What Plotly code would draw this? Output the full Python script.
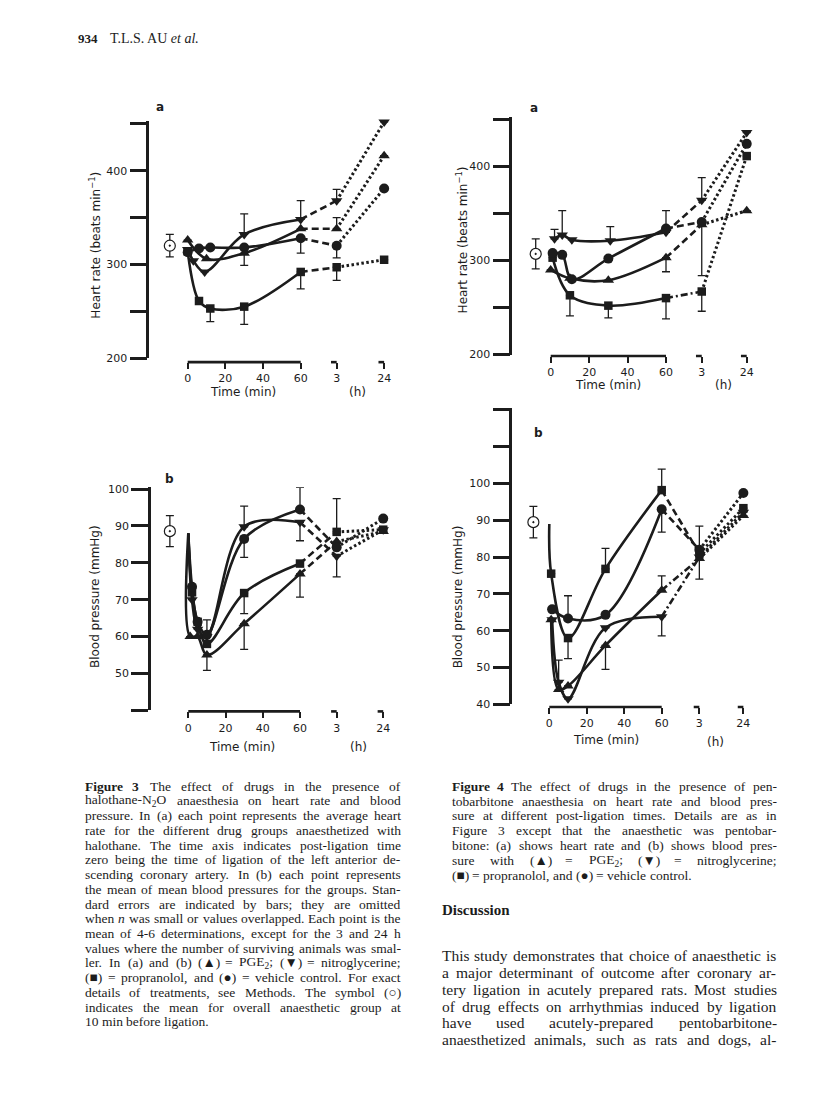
import re
import plotly.graph_objects as go

PAGE_W, PAGE_H = 816, 1113
BODY = 8                      # default margin of the html body
FIG_W, FIG_H = PAGE_W - 2 * BODY, PAGE_H - 2 * BODY
INK = '#1c1c1c'
SANS = 'DejaVu Sans'
SERIF = 'Liberation Serif'


def fx(x):
    return (x - BODY) / FIG_W


def fy(y):
    return 1 - (y - BODY) / FIG_H


# ---------------- data (time in minutes; 180 = 3 h, 1440 = 24 h) ----------------
# Figure 3a: heart rate (beats/min), halothane-N2O
f3a_pge2_t = [0, 10, 30, 60, 180, 1440]
f3a_pge2_v = [326, 306, 312, 338, 338, 416]
f3a_pge2_up = [0, 0, 0, 0, 12, 0]
f3a_pge2_dn = [0, 0, 13, 0, 0, 0]
f3a_nitro_t = [0, 3, 9, 30, 60, 180, 1440]
f3a_nitro_v = [316, 304, 292, 332, 348, 368, 452]
f3a_nitro_up = [0, 0, 0, 22, 20, 12, 0]
f3a_nitro_dn = [0, 0, 0, 0, 0, 0, 0]
f3a_prop_t = [0, 6, 12, 30, 60, 180, 1440]
f3a_prop_v = [314, 261, 253, 255, 292, 297, 305]
f3a_prop_up = [0, 0, 0, 0, 0, 0, 0]
f3a_prop_dn = [0, 0, 14, 19, 18, 14, 0]
f3a_veh_t = [0, 6, 12, 30, 60, 180, 1440]
f3a_veh_v = [313, 317, 318, 318, 328, 320, 381]
f3a_veh_up = [0, 0, 0, 0, 0, 0, 0]
f3a_veh_dn = [0, 0, 0, 0, 16, 13, 0]
f3a_pre = [320, 12]           # mean, SE at 10 min before ligation

# Figure 4a: heart rate (beats/min), pentobarbitone
f4a_pge2_t = [0, 10, 30, 60, 180, 1440]
f4a_pge2_v = [290, 281, 279, 303, 338, 353]
f4a_pge2_up = [0, 0, 0, 0, 0, 0]
f4a_pge2_dn = [0, 0, 0, 15, 0, 0]
f4a_nitro_t = [2, 6, 11, 31, 60, 180, 1440]
f4a_nitro_v = [323, 327, 322, 321, 330, 364, 436]
f4a_nitro_up = [10, 26, 0, 15, 0, 24, 0]
f4a_nitro_dn = [0, 0, 0, 0, 0, 0, 0]
f4a_prop_t = [1, 10, 30, 60, 180, 1440]
f4a_prop_v = [303, 263, 252, 260, 267, 411]
f4a_prop_up = [0, 0, 0, 0, 0, 0]
f4a_prop_dn = [0, 22, 13, 22, 21, 0]
f4a_veh_t = [1, 6, 11, 30, 60, 180, 1440]
f4a_veh_v = [308, 306, 280, 302, 334, 341, 424]
f4a_veh_up = [0, 0, 0, 0, 19, 0, 0]
f4a_veh_dn = [0, 0, 0, 0, 0, 57, 0]
f4a_pre = [307, 16]

# Figure 3b: blood pressure (mmHg), halothane-N2O
f3b_lead = 88                 # common value at ligation (unmarked start of curves)
f3b_pge2_t = [1, 5, 10, 30, 60, 180, 1440]
f3b_pge2_v = [60, 60, 55, 63.5, 77, 85.8, 88.5]
f3b_pge2_up = [0, 0, 0, 0, 0, 0, 0]
f3b_pge2_dn = [0, 0, 4.2, 7, 6.3, 0, 0]
f3b_nitro_t = [2, 5, 10, 30, 60, 180, 1440]
f3b_nitro_v = [70, 62, 60, 89.8, 91, 81.8, 89]
f3b_nitro_up = [0, 0, 0, 5.6, 0, 0, 0]
f3b_nitro_dn = [0, 0, 0, 0, 5, 5.6, 0]
f3b_prop_t = [2, 5, 10, 30, 60, 180, 1440]
f3b_prop_v = [72, 64, 58, 71.8, 79.8, 88.4, 89]
f3b_prop_up = [0, 0, 0, 0, 0, 9, 0]
f3b_prop_dn = [0, 0, 0, 5.6, 0, 0, 0]
f3b_veh_t = [2, 5, 10, 30, 60, 180, 1440]
f3b_veh_v = [73.5, 64, 60.5, 86.5, 94.5, 84.2, 92]
f3b_veh_up = [0, 0, 4, 0, 6, 0, 0]
f3b_veh_dn = [0, 0, 0, 5, 0, 0, 0]
f3b_pre = [88.6, 4.2]

# Figure 4b: blood pressure (mmHg), pentobarbitone
f4b_lead = 89                 # unmarked start of the propranolol curve
f4b_pge2_t = [1, 5, 10, 30, 60, 180, 1440]
f4b_pge2_v = [63, 44, 45, 56, 71, 79.6, 91.3]
f4b_pge2_up = [0, 0, 0, 0, 3.9, 0, 0]
f4b_pge2_dn = [0, 0, 0, 6.5, 0, 0, 0]
f4b_nitro_t = [1.5, 5, 10, 30, 60, 180, 1440]
f4b_nitro_v = [63, 46, 41.5, 60.8, 63.8, 80, 92.2]
f4b_nitro_up = [0, 6, 0, 0, 0, 0, 0]
f4b_nitro_dn = [0, 0, 0, 0, 5.2, 6, 0]
f4b_prop_t = [1, 10, 30, 60, 180, 1440]
f4b_prop_v = [75.5, 58, 76.8, 98.2, 81, 93.3]
f4b_prop_up = [0, 0, 5.6, 5.7, 7.4, 0]
f4b_prop_dn = [0, 5.6, 0, 0, 0, 0]
f4b_veh_t = [1.5, 10, 30, 60, 180, 1440]
f4b_veh_v = [65.8, 63.3, 64.3, 93, 82, 97.4]
f4b_veh_up = [0, 6.2, 0, 0, 0, 0]
f4b_veh_dn = [0, 0, 0, 6.2, 0, 0]
f4b_pre = [89.5, 4.3]

x_tick_text = ['0', '20', '40', '60', '3', '24']
hr_tick_vals = [200, 300, 400]
hr_tick_text = ['200', '300', '400']
hr_minor_vals = [250, 350, 450]
bp3_tick_vals = [50, 60, 70, 80, 90, 100]
bp3_tick_text = ['50', '60', '70', '80', '90', '100']
bp3_minor_vals = [40]
bp4_tick_vals = [40, 50, 60, 70, 80, 90, 100]
bp4_tick_text = ['40', '50', '60', '70', '80', '90', '100']
bp4_minor_vals = [110, 120]

# ---------------- styles ----------------
SYM = {'pge2': 'triangle-up', 'nitro': 'triangle-down', 'prop': 'square', 'veh': 'circle'}
MSIZE = {'pge2': 10, 'nitro': 10, 'prop': 8.5, 'veh': 10}
DASH = '7px,4px'
DASHDOT = '7px,3px,2px,3px'
DOT = '2.5px,2.5px'

PANELS = [
    dict(series={'pge2': (f3a_pge2_t, f3a_pge2_v, f3a_pge2_up, f3a_pge2_dn),
                 'nitro': (f3a_nitro_t, f3a_nitro_v, f3a_nitro_up, f3a_nitro_dn),
                 'prop': (f3a_prop_t, f3a_prop_v, f3a_prop_up, f3a_prop_dn),
                 'veh': (f3a_veh_t, f3a_veh_v, f3a_veh_up, f3a_veh_dn)},
         lead={}, pre=f3a_pre, pre_x=-9.5, h3=79.1, h24=104.3,
         dash60={'pge2': DASH, 'nitro': DASH, 'prop': DASH, 'veh': DASH},
         x0px=187.7, xs=1.8833, xl=149.3, xr=395, xaxis_y=361.7,
         ylo=200, yhi=453, ypx=357.7, ys=0.947,
         yvals=hr_tick_vals, ytext=hr_tick_text, yminor=hr_minor_vals,
         ytitle='Heart rate (beats min<sup>−1</sup>)', ytitle_xy=(95, 244),
         tmin_xy=(243, 392), th_xy=(357, 392), lab='a', lab_xy=(160, 104)),
    dict(series={'pge2': (f4a_pge2_t, f4a_pge2_v, f4a_pge2_up, f4a_pge2_dn),
                 'nitro': (f4a_nitro_t, f4a_nitro_v, f4a_nitro_up, f4a_nitro_dn),
                 'prop': (f4a_prop_t, f4a_prop_v, f4a_prop_up, f4a_prop_dn),
                 'veh': (f4a_veh_t, f4a_veh_v, f4a_veh_up, f4a_veh_dn)},
         lead={}, pre=f4a_pre, pre_x=-7.8, h3=78.6, h24=102,
         dash60={'pge2': DASH, 'nitro': DASH, 'prop': DASHDOT, 'veh': DASH},
         x0px=550.7, xs=1.9217, xl=512.3, xr=770, xaxis_y=355.5,
         ylo=200, yhi=453, ypx=354, ys=0.95,
         yvals=hr_tick_vals, ytext=hr_tick_text, yminor=hr_minor_vals,
         ytitle='Heart rate (beats min<sup>−1</sup>)', ytitle_xy=(461.7, 238),
         tmin_xy=(608, 385), th_xy=(723, 385), lab='a', lab_xy=(534, 105)),
    dict(series={'pge2': (f3b_pge2_t, f3b_pge2_v, f3b_pge2_up, f3b_pge2_dn),
                 'nitro': (f3b_nitro_t, f3b_nitro_v, f3b_nitro_up, f3b_nitro_dn),
                 'prop': (f3b_prop_t, f3b_prop_v, f3b_prop_up, f3b_prop_dn),
                 'veh': (f3b_veh_t, f3b_veh_v, f3b_veh_up, f3b_veh_dn)},
         lead={'pge2': f3b_lead, 'nitro': f3b_lead, 'prop': f3b_lead, 'veh': f3b_lead},
         pre=f3b_pre, pre_x=-9.9, h3=79.7, h24=104.7,
         dash60={'pge2': DASH, 'nitro': DASH, 'prop': DASH, 'veh': DASH},
         x0px=188.3, xs=1.8617, xl=151, xr=395, xaxis_y=714.5,
         ylo=40, yhi=100.5, ypx=713.3, ys=3.722,
         yvals=bp3_tick_vals, ytext=bp3_tick_text, yminor=bp3_minor_vals,
         ytitle='Blood pressure (mmHg)', ytitle_xy=(95, 599),
         tmin_xy=(242, 750), th_xy=(358, 750), lab='b', lab_xy=(169, 480)),
    dict(series={'pge2': (f4b_pge2_t, f4b_pge2_v, f4b_pge2_up, f4b_pge2_dn),
                 'nitro': (f4b_nitro_t, f4b_nitro_v, f4b_nitro_up, f4b_nitro_dn),
                 'prop': (f4b_prop_t, f4b_prop_v, f4b_prop_up, f4b_prop_dn),
                 'veh': (f4b_veh_t, f4b_veh_v, f4b_veh_up, f4b_veh_dn)},
         lead={'prop': f4b_lead}, pre=f4b_pre, pre_x=-8.5, h3=80.1, h24=103.6,
         dash60={'pge2': DASHDOT, 'nitro': DASHDOT, 'prop': DASH, 'veh': DASH},
         x0px=549.3, xs=1.8733, xl=512.3, xr=770, xaxis_y=710,
         ylo=40, yhi=120.5, ypx=707.3, ys=3.7167,
         yvals=bp4_tick_vals, ytext=bp4_tick_text, yminor=bp4_minor_vals,
         ytitle='Blood pressure (mmHg)', ytitle_xy=(458.3, 599),
         tmin_xy=(606, 743), th_xy=(715, 745), lab='b', lab_xy=(538, 433)),
]

# ---------------- text ----------------
HEADER_NUM = '934'
HEADER_AUTH = 'T.L.S. AU <i>et al.</i>'
CAPTION3 = [
    '<b>Figure</b> <b>3</b> The effect of drugs in the presence of',
    'halothane-N<sub>2</sub>O anaesthesia on heart rate and blood',
    'pressure. In (a) each point represents the average heart',
    'rate for the different drug groups anaesthetized with',
    'halothane. The time axis indicates post-ligation time',
    'zero being the time of ligation of the left anterior de-',
    'scending coronary artery. In (b) each point represents',
    'the mean of mean blood pressures for the groups. Stan-',
    'dard errors are indicated by bars; they are omitted',
    'when <i>n</i> was small or values overlapped. Each point is the',
    'mean of 4-6 determinations, except for the 3 and 24 h',
    'values where the number of surviving animals was smal-',
    'ler. In (a) and (b) (▲) = PGE<sub>2</sub>; (▼) = nitroglycerine;',
    '(■) = propranolol, and (●) = vehicle control. For exact',
    'details of treatments, see Methods. The symbol (○)',
    'indicates the mean for overall anaesthetic group at',
    '10 min before ligation.',
]
CAPTION4 = [
    '<b>Figure</b> <b>4</b> The effect of drugs in the presence of pen-',
    'tobarbitone anaesthesia on heart rate and blood pres-',
    'sure at different post-ligation times. Details are as in',
    'Figure 3 except that the anaesthetic was pentobar-',
    'bitone: (a) shows heart rate and (b) shows blood pres-',
    'sure with (▲) = PGE<sub>2</sub>; (▼) = nitroglycerine;',
    '(■) = propranolol, and (●) = vehicle control.',
]
HEADING = 'Discussion'
PARAGRAPH = [
    'This study demonstrates that choice of anaesthetic is',
    'a major determinant of outcome after coronary ar-',
    'tery ligation in acutely prepared rats. Most studies',
    'of drug effects on arrhythmias induced by ligation',
    'have used acutely-prepared pentobarbitone-',
    'anaesthetized animals, such as rats and dogs, al-',
]

# Times-compatible advance widths (per 1000 em) used to justify the text columns
_lc = 'abcdefghijklmnopqrstuvwxyz'
_lcw = [444, 500, 444, 500, 444, 333, 500, 500, 278, 278, 500, 278, 778, 500, 500, 500, 500,
        333, 389, 278, 500, 500, 722, 500, 500, 444]
_uc = 'ABCDEFGHIJKLMNOPQRSTUVWXYZ'
_ucw = [722, 667, 667, 722, 611, 556, 722, 722, 333, 389, 722, 611, 889, 722, 722, 556, 722,
        667, 556, 611, 722, 722, 944, 722, 722, 611]
ADV = dict(zip(_lc, _lcw))
ADV.update(zip(_uc, _ucw))
ADV.update({d: 500 for d in '0123456789'})
ADV.update({' ': 250, '.': 250, ',': 250, '-': 333, '(': 333, ')': 333, ';': 278, ':': 278,
            '=': 564, '▲': 800, '▼': 800, '■': 604, '●': 604, '○': 604})


def word_width(word, size):
    total, scale, bold = 0.0, 1.0, False
    for part in re.split(r'(<[^>]+>)', word):
        if part.startswith('<'):
            closing = part.startswith('</')
            tag = part.strip('</>').lower()
            if tag in ('sub', 'sup'):
                scale = 1.0 if closing else 0.7
            elif tag == 'b':
                bold = not closing
            continue
        for ch in part:
            w = ADV.get(ch, 500) / 1000.0
            total += w * scale * (1.05 if bold else 1.0)
    return total * size


def text_ann(text, x, y, size, family, xanchor='left', yanchor='middle', angle=0):
    return dict(text=text, x=fx(x), y=fy(y), xref='paper', yref='paper', xanchor=xanchor,
                yanchor=yanchor, showarrow=False, textangle=angle, borderpad=0, borderwidth=0,
                font=dict(family=family, size=size, color=INK))


def justified(lines, left, right, top, step, size, ragged_last):
    out = []
    for i, line in enumerate(lines):
        words = line.split()
        widths = [word_width(w, size) for w in words]
        y = top + i * step
        if len(words) > 1 and not (ragged_last and i == len(lines) - 1):
            gap = (right - left - sum(widths)) / (len(words) - 1)
        else:
            gap = 0.25 * size
        x = left
        for w, wd in zip(words, widths):
            out.append(text_ann(w, x, y, size, SERIF))
            x += wd + gap
    return out


# ---------------- figure ----------------
fig = go.Figure()
layout = dict(width=FIG_W, height=FIG_H, margin=dict(l=0, r=0, t=0, b=0),
              paper_bgcolor='white', plot_bgcolor='white', showlegend=False)
shapes, anns = [], []

for n, p in enumerate(PANELS, start=1):
    xa = 'x' if n == 1 else f'x{n}'
    ya = 'y' if n == 1 else f'y{n}'
    xk = 'xaxis' if n == 1 else f'xaxis{n}'
    yk = 'yaxis' if n == 1 else f'yaxis{n}'
    xr0 = (p['xl'] - p['x0px']) / p['xs']
    xr1 = (p['xr'] - p['x0px']) / p['xs']
    ytop_px = p['ypx'] - (p['yhi'] - p['ylo']) * p['ys']
    layout[xk] = dict(domain=[fx(p['xl']), fx(p['xr'])], range=[xr0, xr1], anchor='free',
                      position=fy(p['xaxis_y']), showline=False, showgrid=False, zeroline=False,
                      ticks='outside', ticklen=6, tickwidth=2.4, tickcolor=INK,
                      tickvals=[0, 20, 40, 60, p['h3'], p['h24']], ticktext=x_tick_text,
                      tickfont=dict(family=SANS, size=11, color=INK), fixedrange=True)
    layout[yk] = dict(domain=[fy(p['ypx']), fy(ytop_px)], range=[p['ylo'], p['yhi']], anchor=xa,
                      showline=True, linewidth=2.6, linecolor=INK, showgrid=False, zeroline=False,
                      ticks='outside', ticklen=17, tickwidth=2.6, tickcolor=INK,
                      tickvals=p['yvals'], ticktext=p['ytext'],
                      minor=dict(tickmode='array', tickvals=p['yminor'], ticks='outside',
                                 ticklen=17, tickwidth=2.6, tickcolor=INK, showgrid=False),
                      tickfont=dict(family=SANS, size=11, color=INK), fixedrange=True)

    # broken time axis: 0-60 min, then short stubs at 3 h and 24 h
    for a, b in [(0, 60), (p['h3'] - 3, p['h3']), (p['h24'] - 3, p['h24'])]:
        shapes.append(dict(type='line', xref=xa, yref='paper', x0=a, x1=b,
                           y0=fy(p['xaxis_y']), y1=fy(p['xaxis_y']),
                           line=dict(color=INK, width=2.6)))

    def X(t, p=p):
        if t == 180:
            return p['h3']
        if t == 1440:
            return p['h24']
        return t

    for key in ['pge2', 'nitro', 'prop', 'veh']:
        t, v, up, dn = p['series'][key]
        ex = [X(ti) for ti in t if ti <= 60]
        ey = [vi for ti, vi in zip(t, v) if ti <= 60]
        if key in p['lead']:
            ex = [0] + ex
            ey = [p['lead'][key]] + ey
        fig.add_trace(go.Scatter(x=ex, y=ey, mode='lines', xaxis=xa, yaxis=ya, hoverinfo='skip',
                                 line=dict(color=INK, width=2.6, shape='spline', smoothing=1.0)))
        i60 = max(i for i, ti in enumerate(t) if ti <= 60)
        i3 = t.index(180)
        i24 = t.index(1440)
        fig.add_trace(go.Scatter(x=[X(t[i60]), X(t[i3])], y=[v[i60], v[i3]], mode='lines',
                                 xaxis=xa, yaxis=ya, hoverinfo='skip',
                                 line=dict(color=INK, width=2.6, dash=p['dash60'][key])))
        fig.add_trace(go.Scatter(x=[X(t[i3]), X(t[i24])], y=[v[i3], v[i24]], mode='lines',
                                 xaxis=xa, yaxis=ya, hoverinfo='skip',
                                 line=dict(color=INK, width=3, dash=DOT)))
        has_err = any(up) or any(dn)
        fig.add_trace(go.Scatter(
            x=[X(ti) for ti in t], y=v, mode='markers', xaxis=xa, yaxis=ya, cliponaxis=False,
            marker=dict(symbol=SYM[key], size=MSIZE[key], color=INK, line=dict(width=0)),
            error_y=dict(type='data', symmetric=False, array=up, arrayminus=dn, color=INK,
                         thickness=1.3, width=4, visible=has_err)))

    # mean of overall anaesthetic group before ligation
    fig.add_trace(go.Scatter(
        x=[p['pre_x']], y=[p['pre'][0]], mode='markers', xaxis=xa, yaxis=ya, cliponaxis=False,
        marker=dict(symbol='circle-dot', size=11, color='white', line=dict(color=INK, width=1.2)),
        error_y=dict(type='data', array=[p['pre'][1]], color=INK, thickness=1.3, width=4)))

    anns.append(text_ann(p['ytitle'], *p['ytitle_xy'], 12, SANS, xanchor='center',
                         yanchor='middle', angle=-90))
    anns.append(text_ann('Time (min)', *p['tmin_xy'], 12, SANS, xanchor='center'))
    anns.append(text_ann('(h)', *p['th_xy'], 12, SANS, xanchor='center'))
    anns.append(text_ann('<b>' + p['lab'] + '</b>', *p['lab_xy'], 12, SANS, xanchor='center'))

# page text
anns.append(text_ann('<b>' + HEADER_NUM + '</b>', 97.5, 35, 13, SERIF, xanchor='right'))
anns.append(text_ann(HEADER_AUTH, 110, 35, 14, SERIF))
anns += justified(CAPTION3, 85, 400.7, 790, 14.88, 13.5, True)
anns += justified(CAPTION4, 451.7, 776.7, 790, 15.0, 13.5, True)
anns.append(text_ann('<b>' + HEADING + '</b>', 441.7, 915, 15, SERIF))
anns += justified(PARAGRAPH, 441.7, 776.7, 961.5, 16.9, 15.5, False)

layout['shapes'] = shapes
layout['annotations'] = anns
fig.update_layout(**layout)
fig.write_html('out.html')
